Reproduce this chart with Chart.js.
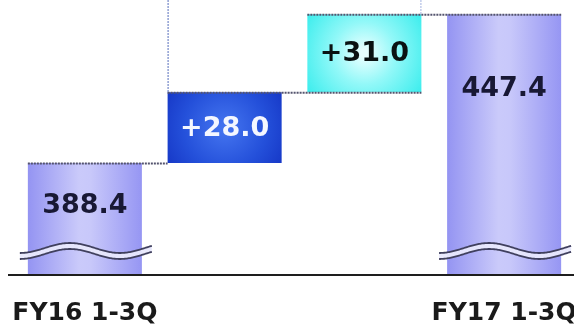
<!DOCTYPE html>
<html>
<head>
<meta charset="utf-8">
<script src="https://cdn.jsdelivr.net/npm/chart.js@4.4.1/dist/chart.umd.min.js"></script>
<style>
  html, body { margin: 0; padding: 0; background: #ffffff; }
  #wrap { width: 574px; height: 329px; position: relative; }
</style>
</head>
<body>
<div id="wrap"><canvas id="c"></canvas></div>
<script>
// Operating figures, FY16 1-3Q -> FY17 1-3Q bridge
const categories = ['FY16 1-3Q', 'inc1', 'inc2', 'FY17 1-3Q'];
const tickLabels = ['FY16 1-3Q', '', '', 'FY17 1-3Q'];
const startTotal = 388.4;
const increments = [28.0, 31.0];
const endTotal = 447.4;

// value axis is broken: bars start from this floor
const AXIS_FLOOR = 344;
const AXIS_TOP = 453;

// floating bar ranges built from the figures above
const ranges = [];
ranges.push([AXIS_FLOOR, startTotal]);
let running = startTotal;
increments.forEach(v => { ranges.push([running, running + v]); running += v; });
ranges.push([AXIS_FLOOR, endTotal]);

const labels = [startTotal.toFixed(1)]
  .concat(increments.map(v => '+' + v.toFixed(1)))
  .concat([endTotal.toFixed(1)]);
const isTotal = [true, false, false, true];

// distance of each value label below the bar top (0 = vertically centered)
const labelDrop = [42, 0, 0, 74];
const labelColors = ['#181834', '#f4f7ff', '#0a1212', '#181834'];

function fillFor(ctx) {
  const chart = ctx.chart;
  const area = chart.chartArea;
  const i = ctx.dataIndex;
  if (!area || !chart.scales.x) return '#a0a0f4';
  const c = chart.ctx;
  const x = chart.scales.x.getPixelForValue(i);
  const half = 57;
  const y = chart.scales.y;
  const top = y.getPixelForValue(ranges[i][1]);
  const bot = y.getPixelForValue(ranges[i][0]);
  if (isTotal[i]) {
    const g = c.createLinearGradient(x - half, 0, x + half, 0);
    g.addColorStop(0, '#9494f2');
    g.addColorStop(0.45, '#cacafa');
    g.addColorStop(0.55, '#c8c8fa');
    g.addColorStop(1, '#9696f3');
    return g;
  }
  const cy = (top + bot) / 2;
  const g = c.createRadialGradient(x, cy, 4, x, cy, 72);
  if (i === 1) {
    g.addColorStop(0, '#4272ee');
    g.addColorStop(0.55, '#2450da');
    g.addColorStop(1, '#1434c4');
  } else {
    g.addColorStop(0, '#e6ffff');
    g.addColorStop(0.4, '#92f8f8');
    g.addColorStop(1, '#34ecec');
  }
  return g;
}

const bridgePlugin = {
  id: 'bridge',
  afterDatasetsDraw(chart) {
    const c = chart.ctx;
    const meta = chart.getDatasetMeta(0);
    const ys = chart.scales.y;
    const area = chart.chartArea;
    const bars = meta.data;
    const left = i => bars[i].x - bars[i].width / 2;
    const right = i => bars[i].x + bars[i].width / 2;

    c.save();
    // dotted connectors
    c.setLineDash([2, 1]);
    c.lineWidth = 2;
    c.strokeStyle = '#54546e';
    const lvl1 = ys.getPixelForValue(ranges[0][1]);
    const lvl2 = ys.getPixelForValue(ranges[1][1]);
    const lvl3 = ys.getPixelForValue(ranges[2][1]);
    c.beginPath();
    c.moveTo(left(0), lvl1 + 0.5); c.lineTo(left(1), lvl1 + 0.5);
    c.moveTo(left(1), lvl2 + 0.5); c.lineTo(right(2), lvl2 + 0.5);
    c.moveTo(left(2), lvl3 + 0.5); c.lineTo(right(3), lvl3 + 0.5);
    c.stroke();
    // faint vertical guides
    c.strokeStyle = '#7e90cc';
    c.lineWidth = 1.3;
    c.beginPath();
    c.moveTo(left(1) + 0.5, area.top); c.lineTo(left(1) + 0.5, lvl2);
    c.stroke();
    c.strokeStyle = '#b8c4e8';
    c.beginPath();
    c.moveTo(right(2) - 0.5, area.top); c.lineTo(right(2) - 0.5, lvl3);
    c.stroke();
    c.setLineDash([]);

    // break marks on the total bars
    const waveMid = area.bottom - 27;
    [0, 3].forEach(i => {
      const x0 = left(i) - 8, x1 = right(i) + 10;
      const P = 100, A = 5, gap = 6;
      const origin = bars[i].x - 40;
      const fn = x => waveMid - A * Math.sin(2 * Math.PI * (x - origin) / P);
      // light band between the two strokes
      c.beginPath();
      for (let x = x0; x <= x1; x += 1) c.lineTo(x, fn(x));
      for (let x = x1; x >= x0; x -= 1) c.lineTo(x, fn(x) + gap);
      c.closePath();
      c.fillStyle = 'rgba(232,232,252,0.95)';
      c.fill();
      c.strokeStyle = '#40405e';
      c.lineWidth = 1.8;
      [0, gap].forEach(off => {
        c.beginPath();
        for (let x = x0; x <= x1; x += 1) {
          const yy = fn(x) + off;
          if (x === x0) c.moveTo(x, yy); else c.lineTo(x, yy);
        }
        c.stroke();
      });
    });

    // baseline
    c.strokeStyle = '#1e1e1e';
    c.lineWidth = 2;
    c.beginPath();
    c.moveTo(8, area.bottom);
    c.lineTo(chart.width, area.bottom);
    c.stroke();

    // value labels
    c.font = 'bold 27px "DejaVu Sans", Verdana, sans-serif';
    c.textAlign = 'center';
    c.textBaseline = 'middle';
    bars.forEach((b, i) => {
      const top = ys.getPixelForValue(ranges[i][1]);
      const bot = ys.getPixelForValue(ranges[i][0]);
      const y = labelDrop[i] ? top + labelDrop[i] : (top + bot) / 2;
      c.fillStyle = labelColors[i];
      c.fillText(labels[i], b.x, y + 1);
    });
    c.restore();
  }
};

new Chart(document.getElementById('c'), {
  type: 'bar',
  data: {
    labels: categories,
    datasets: [{
      data: ranges,
      backgroundColor: fillFor,
      borderWidth: 0,
      barPercentage: 1,
      categoryPercentage: 0.816
    }]
  },
  options: {
    responsive: true,
    maintainAspectRatio: false,
    animation: false,
    events: [],
    layout: { padding: { left: 15, right: 0, top: 0, bottom: 0 } },
    plugins: { legend: { display: false }, tooltip: { enabled: false } },
    scales: {
      x: {
        grid: { display: false, drawTicks: false },
        border: { display: false },
        afterFit(scale) {
          scale.paddingLeft = 0;
          scale.paddingRight = 0;
          scale.height = 54;
        },
        ticks: {
          padding: 23,
          color: '#1a1a1a',
          font: { family: '"DejaVu Sans", Verdana, sans-serif', size: 25, weight: 'bold' },
          callback: (v, i) => tickLabels[i],
          maxRotation: 0,
          autoSkip: false
        }
      },
      y: { display: false, min: AXIS_FLOOR, max: AXIS_TOP }
    }
  },
  plugins: [bridgePlugin]
});
</script>
</body>
</html>
